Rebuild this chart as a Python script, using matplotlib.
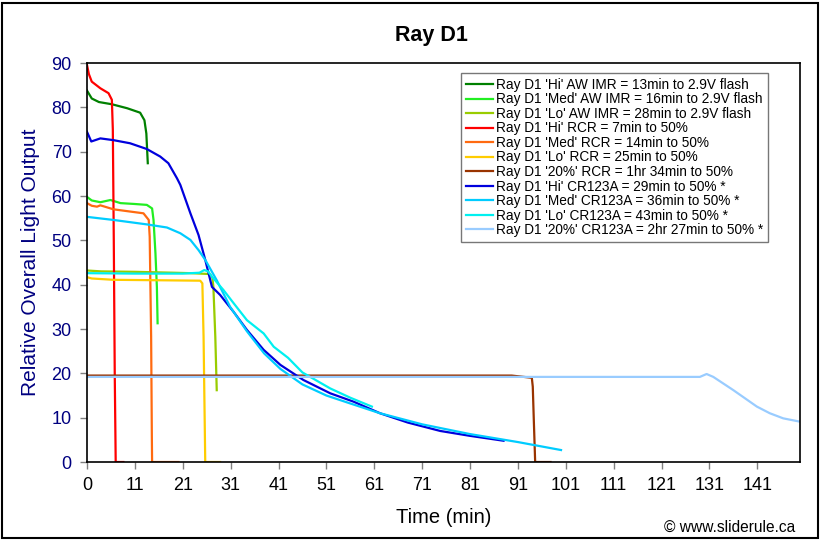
import matplotlib.pyplot as plt
from matplotlib.patches import Rectangle

plt.rcParams["font.family"] = ["Liberation Sans", "DejaVu Sans"]

# x values are in axis units (tick every 10), labels as printed on the chart
x_ticks = [0, 10, 20, 30, 40, 50, 60, 70, 80, 90, 100, 110, 120, 130, 140]
x_labels = ["0", "11", "21", "31", "41", "51", "61", "71", "81", "91",
            "101", "111", "121", "131", "141"]
y_ticks = [0, 10, 20, 30, 40, 50, 60, 70, 80, 90]

hi_imr_t = [0, 1.0, 2.5, 5.2, 8.4, 11.1, 12.0, 12.4, 12.7]
hi_imr_v = [83.8, 82.0, 81.2, 80.7, 79.8, 78.8, 77.1, 74.1, 67.4]

med_imr_t = [0, 1.0, 2.8, 4.9, 7.0, 10.0, 12.5, 13.6, 13.9, 14.3, 14.6, 14.75]
med_imr_v = [59.8, 59.0, 58.6, 59.1, 58.4, 58.2, 58.0, 57.2, 54.6, 47.1, 39.5, 31.3]

lo_imr_t = [0, 3.0, 10.0, 18.0, 21.6, 25.7, 26.2, 26.4, 26.8, 27.1]
lo_imr_v = [43.2, 43.0, 42.9, 42.7, 42.6, 42.4, 41.5, 39.5, 28.3, 16.2]

hi_rcr_t = [0, 0.4, 1.0, 2.8, 4.5, 5.2, 5.4, 5.6, 5.8, 5.95, 6.0, 7.6]
hi_rcr_v = [89.6, 87.5, 85.8, 84.3, 83.2, 81.7, 75.0, 50.0, 20.0, 5.0, 0, 0]

med_rcr_t = [0, 1.0, 2.1, 2.8, 5.55, 9.0, 11.8, 12.9, 13.1, 13.4, 13.55, 13.6, 19.1]
med_rcr_v = [58.4, 57.8, 57.6, 57.9, 57.0, 56.5, 56.1, 54.6, 50.8, 28.3, 5.7, 0, 0]

lo_rcr_t = [0, 1.0, 5.55, 15.0, 23.65, 24.1, 24.35, 24.7, 27.8]
lo_rcr_v = [41.7, 41.4, 41.1, 41.0, 40.9, 40.3, 28.3, 0, 0]

p20_rcr_t = [0, 88.7, 92.9, 93.1, 93.3, 93.6, 96.8]
p20_rcr_v = [19.5, 19.5, 19.0, 17.0, 10.0, 0, 0]

hi_cr_t = [0, 0.9, 2.8, 5.55, 9.0, 12.5, 15.3, 17.0, 18.8, 19.5, 21.6, 23.3,
           24.7, 26.1, 27.8, 30.6, 33.4, 36.9, 40.4, 45.2, 50.8, 55.7, 61.2,
           67.0, 73.8, 80.0, 87.0]
hi_cr_v = [74.5, 72.3, 73.0, 72.6, 71.9, 70.6, 68.9, 67.4, 64.0, 62.5, 56.1, 51.2,
           45.6, 39.5, 37.7, 33.9, 29.8, 25.3, 21.9, 18.5, 15.5, 13.6, 11.0,
           8.9, 7.0, 5.9, 4.8]

med_cr_t = [0, 5.55, 12.5, 16.7, 19.5, 21.6, 23.3, 24.7, 27.1, 29.9, 33.4, 37.0,
            40.4, 45.0, 50.0, 55.0, 61.2, 70.0, 80.0, 90.0, 99.0]
med_cr_v = [55.3, 54.6, 53.6, 52.9, 51.6, 50.1, 47.8, 45.6, 41.0, 35.0, 29.5, 24.5,
            21.0, 17.5, 15.0, 13.2, 11.0, 8.5, 6.3, 4.5, 2.7]

lo_cr_t = [0, 10.0, 20.0, 23.5, 24.5, 25.3, 26.1, 28.5, 30.5, 33.4, 36.9, 39.0,
           42.0, 45.0, 50.8, 55.0, 59.5]
lo_cr_v = [42.6, 42.5, 42.5, 42.7, 43.3, 43.0, 41.8, 38.8, 36.0, 32.0, 29.0, 26.0,
           23.5, 20.2, 16.6, 14.5, 12.5]

p20_cr_t = [0, 128.0, 129.4, 130.8, 135.0, 139.9, 142.6, 145.4, 148.9]
p20_cr_v = [19.2, 19.2, 19.85, 19.2, 16.2, 12.5, 11.0, 9.85, 9.1]

series = [
    (hi_imr_t, hi_imr_v, "#008000", "Ray D1 'Hi' AW IMR = 13min to 2.9V flash"),
    (med_imr_t, med_imr_v, "#22ee22", "Ray D1 'Med' AW IMR = 16min to 2.9V flash"),
    (lo_imr_t, lo_imr_v, "#99cc00", "Ray D1 'Lo' AW IMR = 28min to 2.9V flash"),
    (hi_rcr_t, hi_rcr_v, "#ff0000", "Ray D1 'Hi' RCR = 7min to 50%"),
    (med_rcr_t, med_rcr_v, "#ff6a10", "Ray D1 'Med' RCR = 14min to 50%"),
    (lo_rcr_t, lo_rcr_v, "#ffcc00", "Ray D1 'Lo' RCR = 25min to 50%"),
    (p20_rcr_t, p20_rcr_v, "#993300", "Ray D1 '20%' RCR = 1hr 34min to 50%"),
    (hi_cr_t, hi_cr_v, "#0000dd", "Ray D1 'Hi' CR123A = 29min to 50% *"),
    (med_cr_t, med_cr_v, "#00ccff", "Ray D1 'Med' CR123A = 36min to 50% *"),
    (lo_cr_t, lo_cr_v, "#00f0f0", "Ray D1 'Lo' CR123A = 43min to 50% *"),
    (p20_cr_t, p20_cr_v, "#99ccff", "Ray D1 '20%' CR123A = 2hr 27min to 50% *"),
]

fig = plt.figure(figsize=(8.22, 5.41), dpi=100)
ax = fig.add_axes([0.1058, 0.146, 0.8674, 0.7375])

for t, v, c, lab in series:
    ax.plot(t, v, color=c, linewidth=1.6, label=lab)

ax.set_xlim(0, 148.9)
ax.set_ylim(0, 90)
ax.set_xticks(x_ticks)
ax.set_xticklabels(x_labels, fontsize=13, color="black")
ax.set_yticks(y_ticks)
ax.set_yticklabels([str(y) for y in y_ticks], fontsize=13, color="#000080")
ax.tick_params(axis="both", direction="out", length=5, width=1, color="#808080", pad=6)
for s in ax.spines.values():
    s.set_color("black")
    s.set_linewidth(1.2)

ax.set_xlabel("Time (min)", fontsize=14.5, labelpad=10)
ax.set_ylabel("Relative Overall Light Output", fontsize=15, color="#000080", labelpad=8)
fig.text(0.525, 0.935, "Ray D1", ha="center", va="center", fontsize=15.5, fontweight="bold")
fig.text(0.967, 0.0246, "\u00a9 www.sliderule.ca", ha="right", va="center", fontsize=11.2)

leg = ax.legend(loc="upper left", bbox_to_anchor=(0.5245, 0.975), fontsize=9.8,
                frameon=True, fancybox=False, handlelength=2.0, handletextpad=0.25,
                labelspacing=0.04, borderpad=0.35, borderaxespad=0)
leg.get_frame().set_edgecolor("#555555")
leg.get_frame().set_linewidth(1.0)

fig.patches.append(Rectangle((0.003, 0.006), 0.992, 0.988, transform=fig.transFigure,
                             fill=False, edgecolor="black", linewidth=1.5))

fig.savefig("out.png", dpi=100)
